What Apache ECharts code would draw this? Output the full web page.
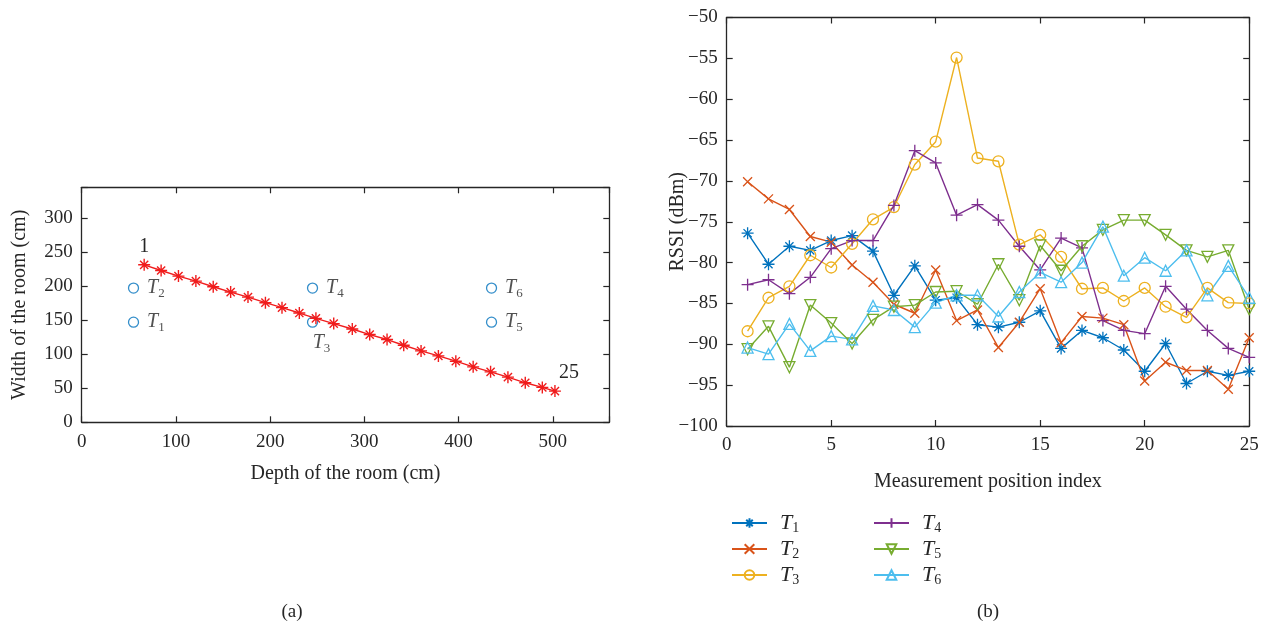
<!DOCTYPE html>
<html><head><meta charset="utf-8">
<script src="https://cdn.jsdelivr.net/npm/echarts@6/dist/echarts.min.js"></script>
<style>html,body{margin:0;padding:0;background:#fff}#c{width:1270px;height:626px}</style>
</head><body><div id="c"></div>
<script>
// ---------- (a) room layout ----------
const routeX = [66.3,84.3,102.7,121.2,139.6,158.1,176.5,195.0,212.6,231.0,248.6,267.5,287.2,305.7,324.1,341.8,360.2,378.6,397.1,415.5,434.0,452.4,470.8,488.9,502.3];
const routeY = [231.2,222.9,214.6,207.3,199.0,191.2,183.8,175.6,168.3,160.4,152.6,144.9,137.0,128.8,121.5,113.1,104.8,97.5,89.7,81.4,74.1,66.3,58.0,51.2,45.8];
const txNames = ['T1','T2','T3','T4','T5','T6'];
const txX = [55, 55, 245, 245, 435, 435];
const txY = [147, 197, 147, 197, 147, 197];

// ---------- (b) RSSI ----------
const positions = [1,2,3,4,5,6,7,8,9,10,11,12,13,14,15,16,17,18,19,20,21,22,23,24,25];
const rssiT1 = [-76.4,-80.2,-78.0,-78.5,-77.3,-76.7,-78.6,-84.0,-80.4,-84.6,-84.3,-87.6,-87.9,-87.3,-85.9,-90.5,-88.3,-89.2,-90.7,-93.3,-89.9,-94.8,-93.3,-93.8,-93.3];
const rssiT2 = [-70.1,-72.2,-73.5,-76.8,-77.5,-80.3,-82.4,-85.1,-86.2,-80.9,-87.1,-85.8,-90.4,-87.3,-83.2,-89.8,-86.6,-86.8,-87.6,-94.5,-92.2,-93.2,-93.2,-95.5,-89.2];
const rssiT3 = [-88.4,-84.3,-82.9,-79.1,-80.6,-77.7,-74.7,-73.2,-68.0,-65.2,-54.9,-67.2,-67.6,-77.8,-76.6,-79.3,-83.2,-83.1,-84.7,-83.1,-85.4,-86.7,-83.1,-84.9,-85.0];
const rssiT4 = [-82.7,-82.1,-83.8,-81.8,-78.3,-77.3,-77.3,-73.0,-66.3,-67.8,-74.2,-72.9,-74.8,-78.0,-80.9,-77.0,-78.2,-87.1,-88.3,-88.7,-82.9,-85.7,-88.3,-90.5,-91.6];
const rssiT5 = [-90.6,-87.8,-92.8,-85.2,-87.4,-89.9,-87.0,-85.4,-85.2,-83.6,-83.5,-85.1,-80.2,-84.6,-77.9,-81.0,-78.0,-76.0,-74.8,-74.8,-76.6,-78.5,-79.3,-78.5,-85.7];
const rssiT6 = [-90.4,-91.2,-87.5,-90.8,-89.0,-89.4,-85.3,-85.8,-87.9,-84.9,-84.0,-84.0,-86.6,-83.6,-81.2,-82.4,-80.0,-75.6,-81.6,-79.4,-81.0,-78.5,-84.0,-80.4,-84.3];
const seriesNames = ['T1','T2','T3','T4','T5','T6'];
const seriesValues = [rssiT1, rssiT2, rssiT3, rssiT4, rssiT5, rssiT6];

const FONT = '"Liberation Serif", "DejaVu Serif", serif';
const INK = '#262626';
const COLORS = ['#0072BD','#D95319','#EDB120','#7E2F8E','#77AC30','#4DBEEE'];
const ASTERISK = 'path://M5 0L5 10M0 5L10 5M1.6 1.6L8.4 8.4M8.4 1.6L1.6 8.4';
const PLUS = 'path://M5 0L5 10M0 5L10 5';
const CROSS = 'path://M0 0L10 10M10 0L0 10';
const SYMBOLS = [ASTERISK, CROSS, 'circle', PLUS, 'triangle', 'triangle'];
const SIZES = [12, 9, 11, 12, 11, 11];
const ROT = [0, 0, 0, 0, 180, 0];

const subRich = (tSize, sSize, lh) => ({
  t: {fontFamily: FONT, fontStyle: 'italic', fontSize: tSize, color: INK, lineHeight: lh},
  s: {fontFamily: FONT, fontSize: sSize, color: INK, lineHeight: sSize - 2, verticalAlign: 'bottom'}
});
const subText = name => '{t|T}{s|' + name.slice(1) + '}';

const line = {show: true, onZero: false, lineStyle: {color: INK, width: 1.3}};
const tick = {show: true, inside: true, length: 6, lineStyle: {color: INK, width: 1.2}};
const lbl = {fontFamily: FONT, fontSize: 19, color: INK};

function mkX(grid, pos, min, max, interval, labels, name, gap, fmt) {
  return {type: 'value', gridIndex: grid, position: pos, min, max, interval,
    axisLine: line, axisTick: tick, splitLine: {show: false},
    axisLabel: labels ? Object.assign({show: true, margin: 10, formatter: fmt}, lbl) : {show: false},
    name: name || '', nameLocation: 'middle', nameGap: gap || 0, nameMoveOverlap: false,
    nameTextStyle: {fontFamily: FONT, fontSize: 20, color: INK}};
}
function mkY(grid, pos, min, max, interval, labels, name, gap, fmt) {
  return {type: 'value', gridIndex: grid, position: pos, min, max, interval,
    axisLine: line, axisTick: tick, splitLine: {show: false},
    axisLabel: labels ? Object.assign({show: true, margin: 9, formatter: fmt}, lbl) : {show: false},
    name: name || '', nameLocation: 'middle', nameGap: gap || 0, nameRotate: 90, nameMoveOverlap: false,
    nameTextStyle: {fontFamily: FONT, fontSize: 20, color: INK}};
}
const fmtStep = s => v => (Math.abs(v % s) < 1e-9 ? String(v) : '');
const fmtNeg = v => (v % 5 === 0 ? String(v).replace('-', '\u2212') : '');

const routeData = routeX.map((x, i) => {
  const d = {value: [x, routeY[i]]};
  if (i === 0) d.label = {show: true, formatter: '1', position: 'top', distance: 0};
  if (i === routeX.length - 1) d.label = {show: true, formatter: '25', position: 'top', distance: 0, offset: [14, 0]};
  return d;
});
const txData = txNames.map((n, i) => {
  const d = {value: [txX[i], txY[i], n]};
  if (n === 'T3') d.label = {position: 'bottom', distance: 1, offset: [9, 0]};
  return d;
});

const rssiSeries = seriesNames.map((n, k) => ({
  name: n, type: 'line', xAxisIndex: 2, yAxisIndex: 2,
  data: positions.map((p, i) => [p, seriesValues[k][i]]),
  symbol: SYMBOLS[k], symbolSize: SIZES[k], symbolRotate: ROT[k], showAllSymbol: true,
  lineStyle: {color: COLORS[k], width: 1.4},
  itemStyle: {color: 'none', borderColor: COLORS[k], borderWidth: 1.3},
  emphasis: {disabled: true}, animation: false, z: 3
}));

const option = {
  animation: false,
  backgroundColor: '#fff',
  grid: [
    {left: 81.7, top: 187.3, width: 527.6, height: 235},
    {left: 726.7, top: 17.5, width: 522.5, height: 408.5}
  ],
  xAxis: [
    mkX(0, 'bottom', 0, 560, 100, true, 'Depth of the room (cm)', 41, fmtStep(100)),
    mkX(0, 'top', 0, 560, 100, false),
    mkX(1, 'bottom', 0, 25, 5, true, 'Measurement position index', 46, fmtStep(5)),
    mkX(1, 'top', 0, 25, 5, false)
  ],
  yAxis: [
    mkY(0, 'left', 0, 345, 50, true, 'Width of the room (cm)', 52, fmtStep(50)),
    mkY(0, 'right', 0, 345, 50, false),
    mkY(1, 'left', -100, -50, 5, true, 'RSSI (dBm)', 39, fmtNeg),
    mkY(1, 'right', -100, -50, 5, false)
  ],
  legend: [
    {data: ['T1','T2','T3'], orient: 'vertical', left: 726, top: 507, itemWidth: 35, itemHeight: 12, itemGap: 3,
     formatter: subText, textStyle: {rich: subRich(22, 14, 24), padding: [0,0,0,8]}, selectedMode: false},
    {data: ['T4','T5','T6'], orient: 'vertical', left: 868, top: 507, itemWidth: 35, itemHeight: 12, itemGap: 3,
     formatter: subText, textStyle: {rich: subRich(22, 14, 24), padding: [0,0,0,8]}, selectedMode: false}
  ],
  series: [
    {name: 'Route', type: 'line', xAxisIndex: 0, yAxisIndex: 0, data: routeData,
     symbol: ASTERISK, symbolSize: 12, showAllSymbol: true,
     lineStyle: {color: '#f01c1c', width: 1.4},
     itemStyle: {color: 'none', borderColor: '#f01c1c', borderWidth: 1.4},
     label: {show: false, fontFamily: FONT, fontSize: 20, color: INK},
     emphasis: {disabled: true}},
    {name: 'Transmitters', type: 'scatter', xAxisIndex: 0, yAxisIndex: 0, data: txData,
     symbol: 'circle', symbolSize: 10,
     itemStyle: {color: 'none', borderColor: '#0072BD', borderWidth: 1.3},
     label: {show: true, position: 'right', distance: 6, formatter: p => subText(p.data.value[2]),
       rich: subRich(20, 13, 24)},
     emphasis: {disabled: true}}
  ].concat(rssiSeries),
  graphic: [
    {type: 'text', x: 292, y: 612, style: {text: '(a)', fontFamily: FONT, fontSize: 19, fill: INK, align: 'center', verticalAlign: 'middle'}},
    {type: 'text', x: 988, y: 612, style: {text: '(b)', fontFamily: FONT, fontSize: 19, fill: INK, align: 'center', verticalAlign: 'middle'}}
  ]
};
const chart = echarts.init(document.getElementById('c'));
chart.setOption(option);
</script></body></html>
